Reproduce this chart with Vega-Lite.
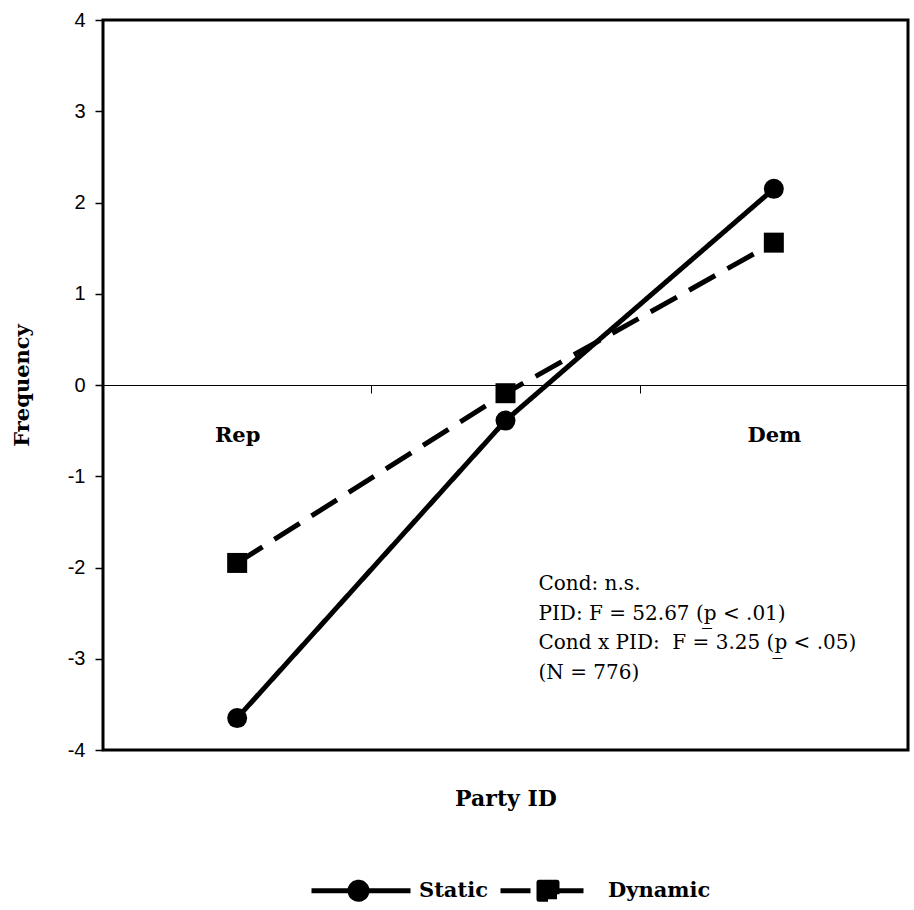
{
  "$schema": "https://vega.github.io/schema/vega-lite/v6.json",
  "width": 805,
  "height": 730,
  "autosize": {"type": "none"},
  "padding": {"left": 103, "top": 20, "right": 6, "bottom": 160},
  "background": "white",
  "config": {
    "view": {"stroke": "black", "strokeWidth": 3},
    "axis": {"grid": false}
  },
  "data": {
    "values": [
      {"party": "Rep", "cond": "Static", "value": -3.65},
      {"party": "Mid", "cond": "Static", "value": -0.39},
      {"party": "Dem", "cond": "Static", "value": 2.15},
      {"party": "Rep", "cond": "Dynamic", "value": -1.95},
      {"party": "Mid", "cond": "Dynamic", "value": -0.09},
      {"party": "Dem", "cond": "Dynamic", "value": 1.56}
    ]
  },
  "layer": [
    {
      "mark": {"type": "line", "color": "black", "strokeWidth": 5},
      "encoding": {
        "x": {
          "field": "party",
          "type": "nominal",
          "sort": ["Rep", "Mid", "Dem"],
          "scale": {"paddingInner": 0, "paddingOuter": 0},
          "axis": {
            "orient": "bottom",
            "offset": -365,
            "title": "Party ID",
            "titleY": 403,
            "titleBaseline": "top",
            "titleFont": "DejaVu Serif",
            "titleFontWeight": "bold",
            "titleFontSize": 22,
            "titleColor": "black",
            "domainColor": "black",
            "domainWidth": 1,
            "tickBand": "extent",
            "tickSize": 8,
            "tickColor": "black",
            "tickWidth": 1,
            "labelAngle": 0,
            "labelExpr": "datum.value == 'Mid' ? '' : datum.value",
            "labelFont": "DejaVu Serif",
            "labelFontWeight": "bold",
            "labelFontSize": 21,
            "labelColor": "black",
            "labelPadding": 31,
            "labelBaseline": "top"
          }
        },
        "y": {
          "field": "value",
          "type": "quantitative",
          "scale": {"domain": [-4, 4], "nice": false, "zero": false},
          "axis": {
            "title": "Frequency",
            "values": [-4, -3, -2, -1, 0, 1, 2, 3, 4],
            "labelExpr": "'' + datum.value",
            "domain": false,
            "tickSize": 8,
            "tickWidth": 1.5,
            "tickColor": "black",
            "labelFont": "Liberation Sans",
            "labelFontSize": 20,
            "labelColor": "black",
            "labelPadding": 10,
            "titleFont": "DejaVu Serif",
            "titleFontWeight": "bold",
            "titleFontSize": 21,
            "titleColor": "black",
            "titleX": -81,
            "titleY": 365,
            "titleAngle": 270,
            "titleBaseline": "middle",
            "titleAlign": "center"
          }
        },
        "strokeDash": {
          "field": "cond",
          "type": "nominal",
          "scale": {"domain": ["Static", "Dynamic"], "range": [[1, 0], [30, 14]]},
          "legend": {
            "orient": "none",
            "legendX": 206,
            "legendY": 858,
            "direction": "horizontal",
            "title": null,
            "padding": 0,
            "symbolSize": 400,
            "labelOffset": 85,
            "columnPadding": 10,
            "labelFont": "DejaVu Serif",
            "labelFontWeight": "bold",
            "labelFontSize": 21,
            "labelColor": "black",
            "symbolStrokeWidth": 5,
            "symbolStrokeColor": "black",
            "symbolFillColor": "black",
            "encode": {
              "symbols": {
                "update": {
                  "shape": {"signal": "datum.value === 'Static' ? 'M-1,0H8.9M2.85,0A0.85,0.85 0 1,0 4.55,0A0.85,0.85 0 1,0 2.85,0Z' : 'M2.85,-0.85H4.65V0.85H2.85Z M-1,0H2.2M4.8,0H7.3'"},
                  "fill": {"value": "black"},
                  "stroke": {"value": "black"},
                  "strokeDash": {"value": [1, 0]},
                  "strokeWidth": {"value": 5},
                  "strokeJoin": {"value": "round"},
                  "opacity": {"value": 1}
                }
              }
            }
          }
        }
      }
    },
    {
      "transform": [{"filter": "datum.cond === 'Static'"}],
      "mark": {"type": "point", "shape": "circle", "filled": true, "color": "black", "size": 400, "opacity": 1},
      "encoding": {
        "x": {"field": "party", "type": "nominal", "sort": ["Rep", "Mid", "Dem"]},
        "y": {"field": "value", "type": "quantitative"}
      }
    },
    {
      "transform": [{"filter": "datum.cond === 'Dynamic'"}],
      "mark": {"type": "point", "shape": "square", "filled": true, "color": "black", "size": 400, "opacity": 1},
      "encoding": {
        "x": {"field": "party", "type": "nominal", "sort": ["Rep", "Mid", "Dem"]},
        "y": {"field": "value", "type": "quantitative"}
      }
    },
    {
      "data": {"values": [{"note": "stats"}]},
      "mark": {
        "type": "text",
        "align": "left",
        "baseline": "alphabetic",
        "dx": 33,
        "font": "DejaVu Serif",
        "fontSize": 20,
        "lineHeight": 29.5,
        "color": "black"
      },
      "encoding": {
        "x": {"datum": "Mid", "type": "nominal"},
        "y": {"datum": -2.25, "type": "quantitative"},
        "text": {"value": ["Cond: n.s.", "PID: F = 52.67 (p̲ < .01)", "Cond x PID:\u00a0 F = 3.25 (p̲ < .05)", "(N = 776)"]}
      }
    }
  ]
}
